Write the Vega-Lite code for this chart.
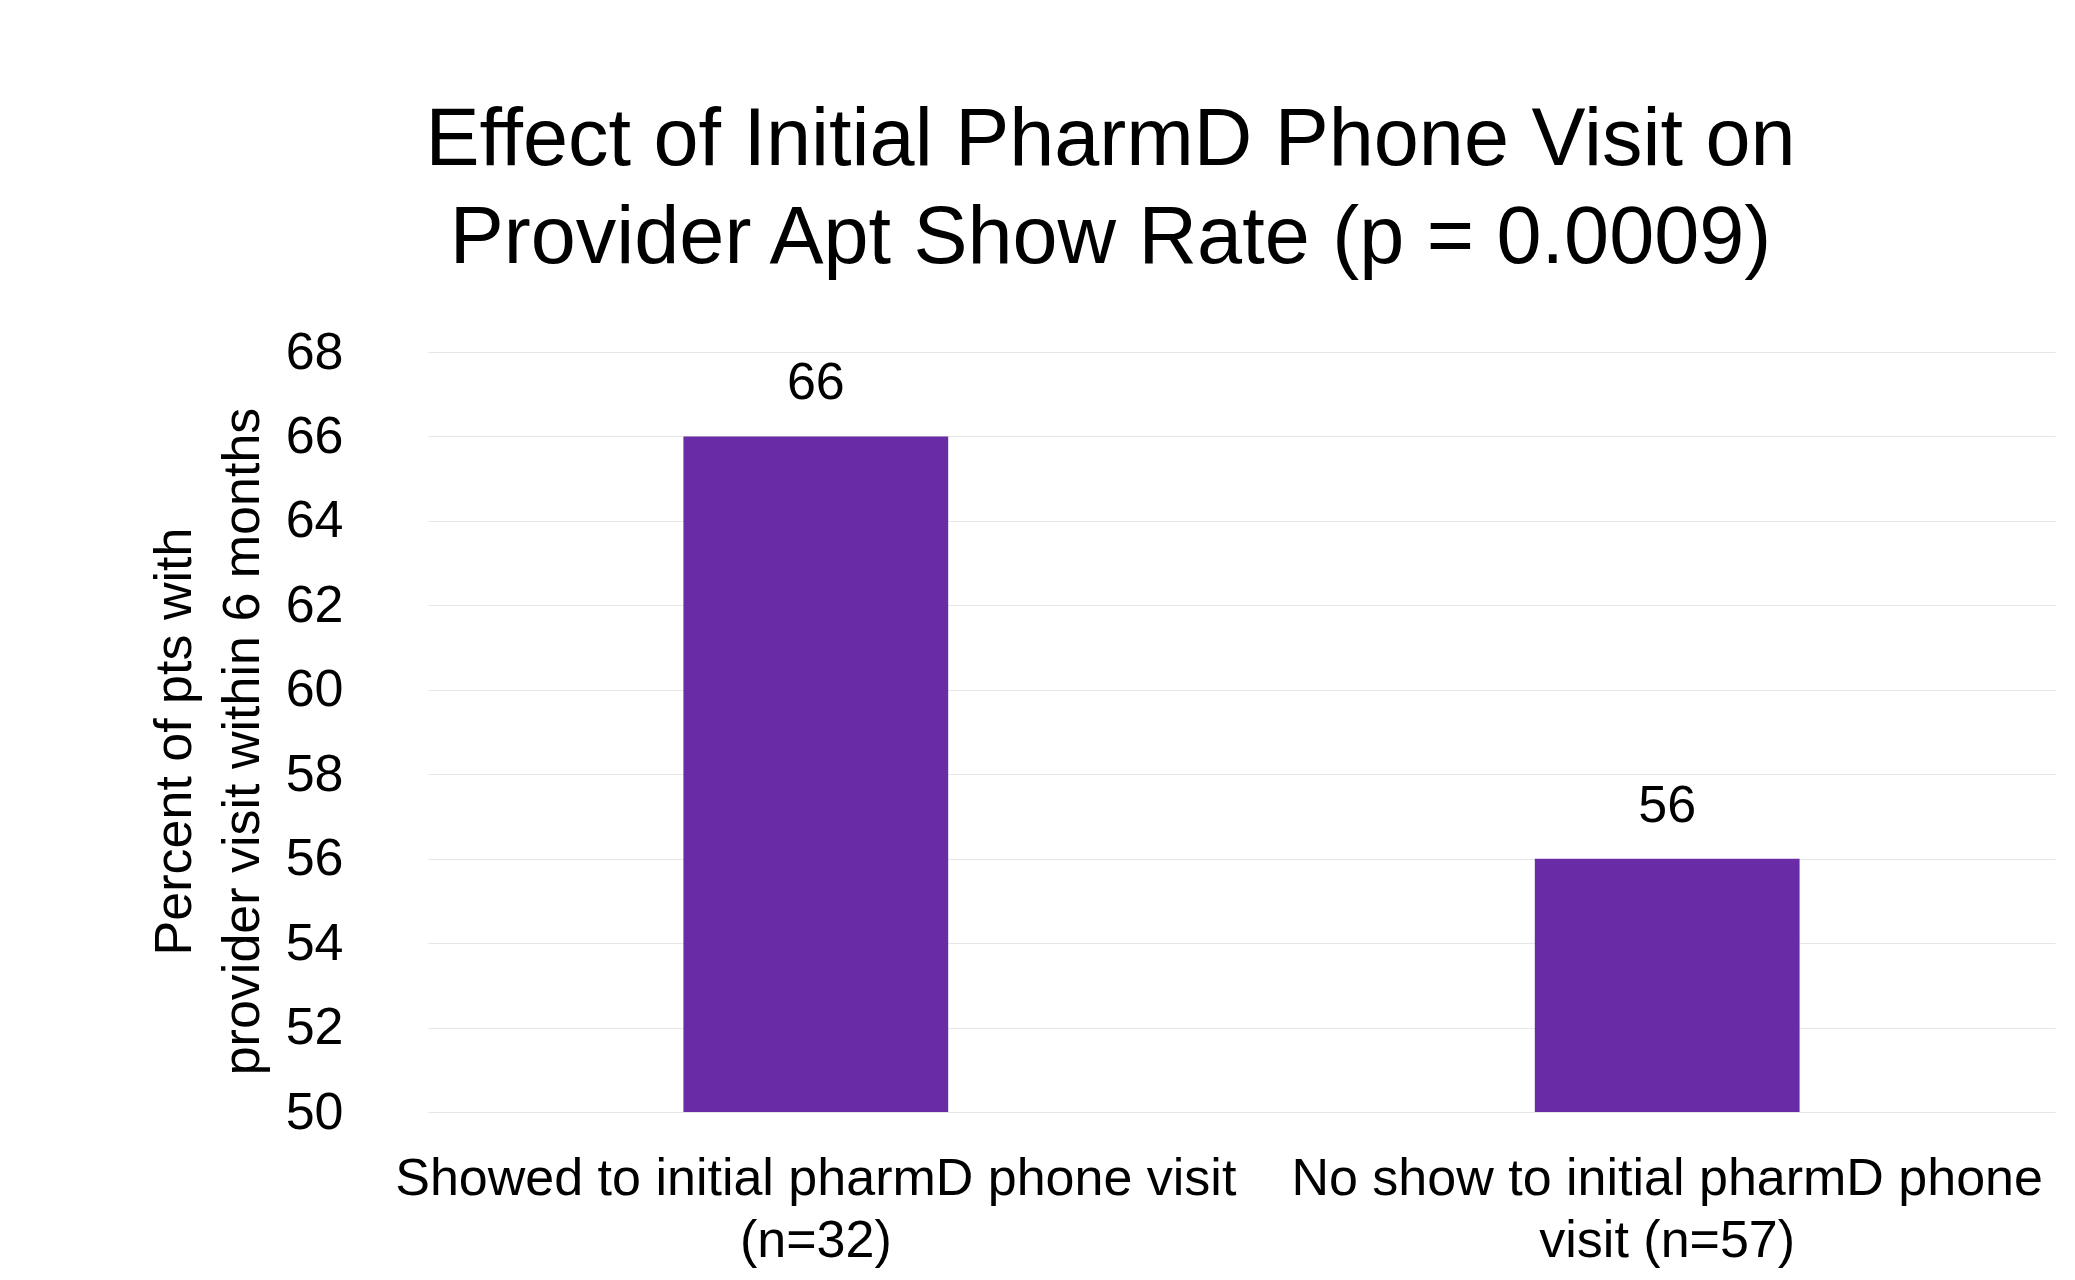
{
  "$schema": "https://vega.github.io/schema/vega-lite/v6.json",
  "width": 1627,
  "height": 760,
  "autosize": "none",
  "padding": {"left": 428, "top": 352, "right": 20, "bottom": 168},
  "background": "white",
  "config": {"view": {"stroke": null}, "font": "Liberation Sans"},
  "title": {
    "text": ["Effect of Initial PharmD Phone Visit on", "Provider Apt Show Rate (p = 0.0009)"],
    "fontSize": 81,
    "font": "Liberation Sans",
    "fontWeight": "normal",
    "color": "black",
    "lineHeight": 98,
    "anchor": "middle",
    "dx": -131,
    "offset": 46
  },
  "data": {
    "values": [
      {"group": "Showed to initial pharmD phone visit (n=32)", "pct": 66},
      {"group": "No show to initial pharmD phone visit (n=57)", "pct": 56}
    ]
  },
  "encoding": {
    "x": {
      "field": "group",
      "type": "nominal",
      "sort": null,
      "scale": {"paddingInner": 0.689, "paddingOuter": 0.3},
      "axis": {
        "title": null,
        "labelAngle": 0,
        "labelFontSize": 52,
        "labelColor": "black",
        "labelLineHeight": 62,
        "labelPadding": 41,
        "labelLimit": 3000,
        "ticks": false,
        "domain": false,
        "grid": false,
        "labelExpr": "indexof(datum.value, 'Showed') == 0 ? ['Showed to initial pharmD phone visit', '(n=32)'] : ['No show to initial pharmD phone', 'visit (n=57)']"
      }
    },
    "y": {
      "field": "pct",
      "type": "quantitative",
      "scale": {"domain": [50, 68], "zero": false, "nice": false},
      "axis": {
        "title": ["Percent of pts with", "provider visit within 6 months"],
        "titleFontSize": 52,
        "titleFontWeight": "normal",
        "titleColor": "black",
        "titleLineHeight": 68,
        "titleAngle": -90,
        "titleX": -254,
        "titleY": 389,
        "titleAlign": "center",
        "titleBaseline": "middle",
        "labelFontSize": 52,
        "labelColor": "black",
        "labelPadding": 85,
        "ticks": false,
        "domain": false,
        "gridColor": "#e6e6e6",
        "values": [50, 52, 54, 56, 58, 60, 62, 64, 66, 68]
      }
    }
  },
  "layer": [
    {
      "mark": {"type": "bar", "color": "#6a2ca6"},
      "encoding": {"y2": {"datum": 50}}
    },
    {
      "mark": {"type": "text", "baseline": "bottom", "dy": -26, "fontSize": 52, "color": "black", "font": "Liberation Sans"},
      "encoding": {"text": {"field": "pct"}}
    }
  ]
}
